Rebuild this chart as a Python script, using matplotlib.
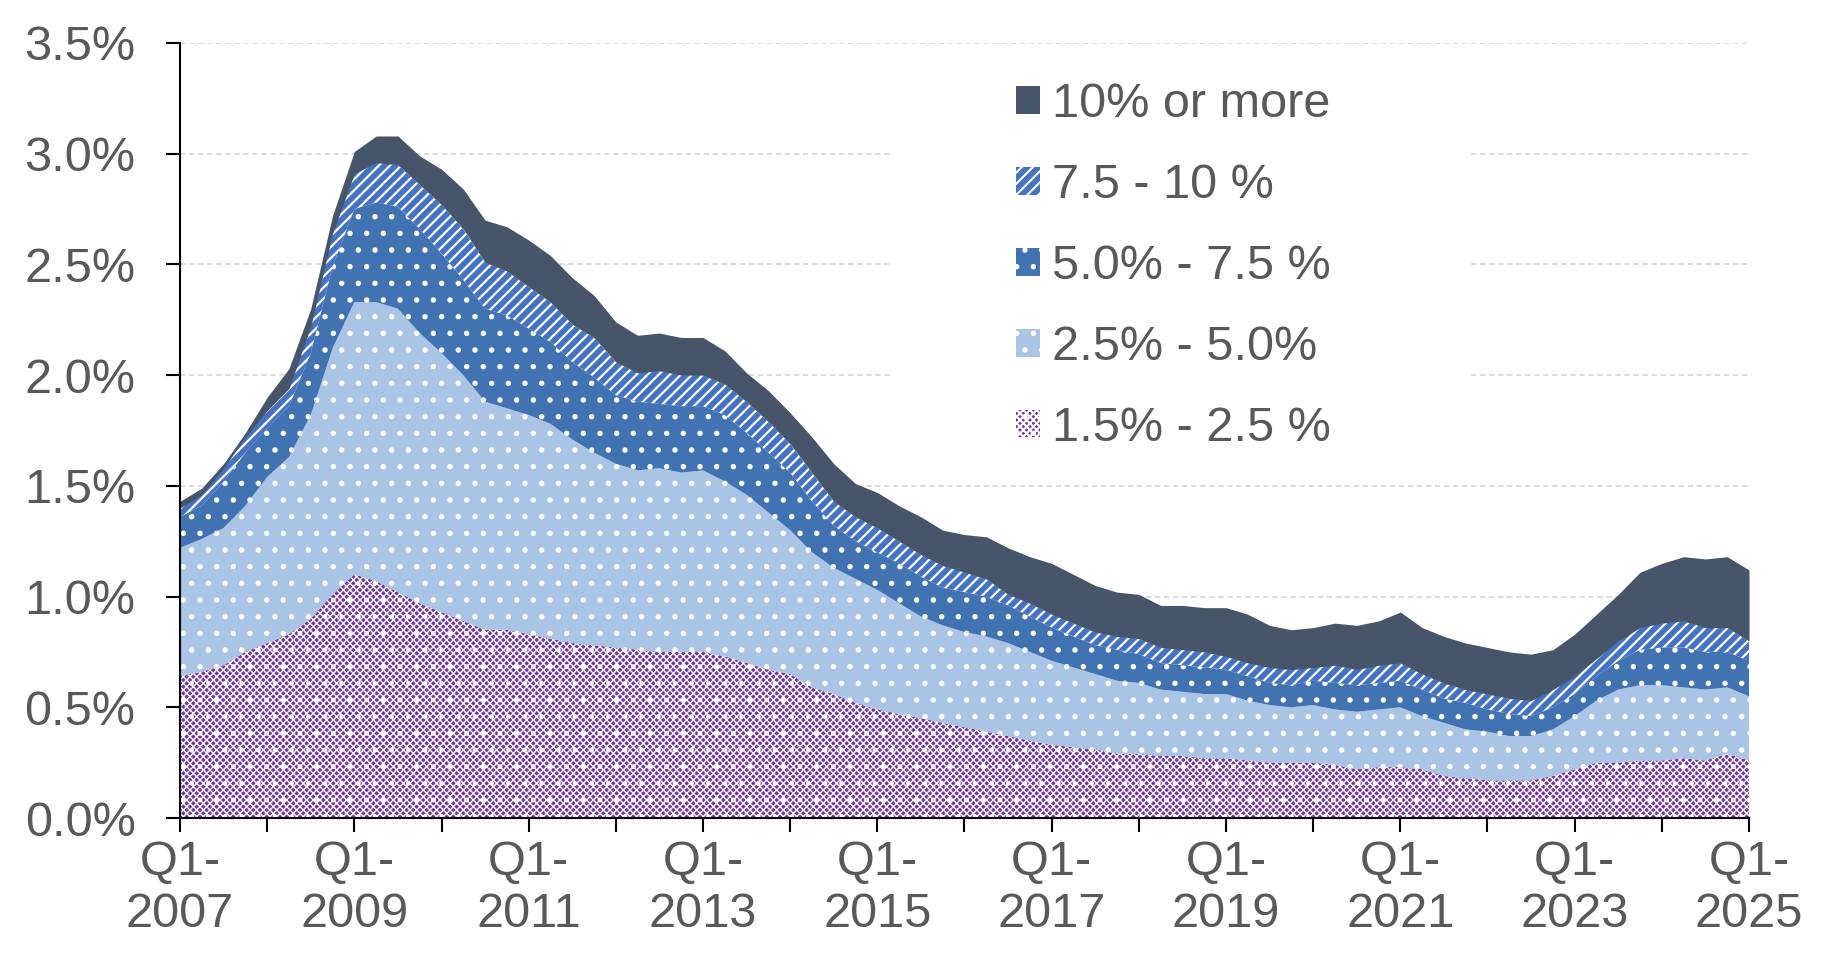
import numpy as np
import matplotlib
matplotlib.use('Agg')
import matplotlib.pyplot as plt
from matplotlib.patches import Patch, Rectangle

plt.rcParams['font.family'] = ['Liberation Sans', 'DejaVu Sans']

# quarterly, Q1-2007 .. Q1-2025 (73 points), values in %
years = list(range(2007, 2026))

band_15_25 = [0.64, 0.66, 0.69, 0.75, 0.79, 0.83, 0.90, 1.01, 1.10, 1.07, 1.02, 0.97, 0.93, 0.89, 0.85, 0.85, 0.83, 0.81, 0.79,
              0.78, 0.77, 0.76, 0.75, 0.75, 0.75, 0.73, 0.70, 0.67, 0.65, 0.59, 0.56, 0.52, 0.49, 0.47, 0.45, 0.43, 0.41,
              0.39, 0.37, 0.35, 0.33, 0.32, 0.31, 0.29, 0.29, 0.28, 0.28, 0.27, 0.27, 0.26, 0.25, 0.25, 0.25, 0.24, 0.22,
              0.23, 0.23, 0.22, 0.19, 0.18, 0.17, 0.17, 0.17, 0.19, 0.22, 0.25, 0.25, 0.26, 0.26, 0.27, 0.26, 0.29, 0.26]
band_25_50 = [0.58, 0.60, 0.62, 0.66, 0.75, 0.80, 0.92, 1.11, 1.23, 1.26, 1.28, 1.22, 1.17, 1.11, 1.03, 1.00, 0.99, 0.97, 0.92,
              0.87, 0.83, 0.81, 0.83, 0.81, 0.82, 0.79, 0.76, 0.71, 0.65, 0.61, 0.57, 0.56, 0.54, 0.50, 0.46, 0.44, 0.43,
              0.43, 0.42, 0.40, 0.38, 0.36, 0.34, 0.33, 0.32, 0.30, 0.29, 0.29, 0.29, 0.27, 0.26, 0.25, 0.26, 0.25, 0.26,
              0.26, 0.27, 0.24, 0.24, 0.22, 0.22, 0.20, 0.20, 0.21, 0.24, 0.28, 0.33, 0.34, 0.34, 0.32, 0.32, 0.30, 0.29]
band_50_75 = [0.14, 0.15, 0.21, 0.24, 0.22, 0.23, 0.28, 0.37, 0.42, 0.45, 0.46, 0.47, 0.45, 0.43, 0.42, 0.42, 0.39, 0.37, 0.35,
              0.34, 0.31, 0.31, 0.29, 0.30, 0.29, 0.30, 0.28, 0.27, 0.26, 0.23, 0.19, 0.17, 0.17, 0.18, 0.18, 0.17, 0.18,
              0.18, 0.17, 0.16, 0.15, 0.14, 0.13, 0.14, 0.13, 0.12, 0.12, 0.12, 0.11, 0.11, 0.10, 0.10, 0.11, 0.12, 0.12,
              0.12, 0.12, 0.12, 0.11, 0.12, 0.10, 0.10, 0.09, 0.10, 0.10, 0.11, 0.13, 0.16, 0.17, 0.18, 0.17, 0.16, 0.16]
band_75_10 = [0.04, 0.05, 0.06, 0.07, 0.08, 0.08, 0.12, 0.15, 0.16, 0.18, 0.19, 0.20, 0.22, 0.23, 0.21, 0.20, 0.19, 0.18, 0.17,
              0.18, 0.15, 0.13, 0.15, 0.14, 0.14, 0.14, 0.14, 0.14, 0.13, 0.13, 0.11, 0.11, 0.11, 0.10, 0.10, 0.10, 0.09,
              0.08, 0.05, 0.06, 0.06, 0.06, 0.06, 0.06, 0.07, 0.07, 0.07, 0.07, 0.06, 0.06, 0.07, 0.07, 0.06, 0.08, 0.07,
              0.08, 0.08, 0.07, 0.07, 0.06, 0.07, 0.07, 0.07, 0.08, 0.08, 0.08, 0.09, 0.10, 0.11, 0.12, 0.11, 0.11, 0.09]
band_10_up = [0.03, 0.03, 0.02, 0.02, 0.06, 0.09, 0.08, 0.08, 0.10, 0.12, 0.13, 0.13, 0.16, 0.18, 0.19, 0.20, 0.21, 0.21, 0.21,
              0.19, 0.18, 0.17, 0.17, 0.17, 0.17, 0.15, 0.13, 0.14, 0.14, 0.16, 0.17, 0.15, 0.16, 0.16, 0.17, 0.16, 0.17,
              0.19, 0.21, 0.21, 0.23, 0.22, 0.21, 0.20, 0.20, 0.19, 0.20, 0.20, 0.22, 0.22, 0.19, 0.18, 0.18, 0.19, 0.20,
              0.20, 0.23, 0.21, 0.21, 0.21, 0.21, 0.21, 0.21, 0.18, 0.19, 0.20, 0.21, 0.25, 0.27, 0.29, 0.31, 0.32, 0.32]

labels = ['1.5% - 2.5 %', '2.5% - 5.0%', '5.0% - 7.5 %', '7.5 - 10 %', '10% or more']
series = [band_15_25, band_25_50, band_50_75, band_75_10, band_10_up]
faces = ['#7433A6', '#A9C4E4', '#4173B3', '#4472C4', '#465569']
hatches = ['xxxxx.', '.', '.', '///', None]
hatch_lw = [1.0, 1.5, 1.5, 1.6, 1.5]

grey = '#595959'

fig = plt.figure(figsize=(18.36, 9.58), dpi=100)
ax = fig.add_axes([180 / 1836, 1 - 818 / 958, (1749 - 180) / 1836, (818 - 43) / 958])

x = np.arange(len(band_15_25))
base = np.zeros(len(x))
for vals, fc, h, hl in zip(series, faces, hatches, hatch_lw):
    top = base + np.array(vals)
    plt.rcParams['hatch.linewidth'] = hl
    ax.fill_between(x, base, top, facecolor=fc, edgecolor='white', hatch=h,
                    linewidth=0, zorder=2)
    base = top

# white box behind the legend hides the gridlines there
ax.add_patch(Rectangle((893 / 1836, 1 - 460 / 958), (1469 - 893) / 1836, (460 - 70) / 958,
                       transform=fig.transFigure, facecolor='white', edgecolor='none', zorder=1))

ax.set_xlim(0, 72)
ax.set_ylim(0, 3.5)
yt = np.arange(0, 3.51, 0.5)
ax.set_yticks(yt)
ax.set_yticklabels([f'{v:.1f}%' for v in yt])
ax.set_xticks(np.arange(0, 73, 4))
ax.set_xticklabels([f'Q1-\n{y}' if (y - 2007) % 2 == 0 else '' for y in years])

ax.yaxis.grid(True, color='#D9D9D9', linestyle=(0, (3, 2)), linewidth=1.3)
ax.set_axisbelow(True)

for s in ['top', 'right']:
    ax.spines[s].set_visible(False)
for s in ['left', 'bottom']:
    ax.spines[s].set_linewidth(1.5)
    ax.spines[s].set_color('black')
    ax.spines[s].set_zorder(3)

ax.tick_params(axis='x', length=10, width=1.5, pad=6, labelsize=35, labelcolor=grey)
ax.tick_params(axis='y', length=10, width=1.5, pad=22, labelsize=35, labelcolor=grey)

handles = []
for fc, h, hl in zip(faces, hatches, hatch_lw):
    plt.rcParams['hatch.linewidth'] = hl
    handles.append(Patch(facecolor=fc, edgecolor='white', hatch=h, linewidth=0))
ax.legend(handles[::-1], labels[::-1], loc='upper left',
          bbox_to_anchor=(1016 / 1836, 1 - 82 / 958), bbox_transform=fig.transFigure,
          frameon=False, fontsize=35, labelcolor=grey, handlelength=0.5, handleheight=0.5,
          handletextpad=0.25, labelspacing=0.74, borderpad=0, borderaxespad=0)

fig.savefig('out.png', dpi=100)
